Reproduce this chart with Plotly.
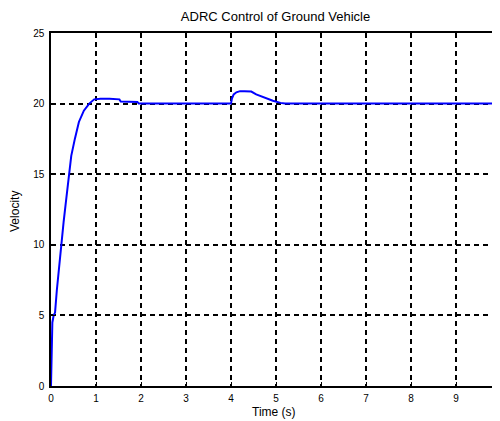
import plotly.graph_objects as go

# Data
time_s = [0, 0.015, 0.03, 0.06, 0.09, 0.13, 0.18, 0.23, 0.28, 0.33, 0.39, 0.45,
          0.53, 0.62, 0.73, 0.85, 0.96, 1.1, 1.3, 1.52, 1.55, 1.92, 1.95, 2.5,
          3.0, 3.5, 4.0, 4.02, 4.06, 4.12, 4.2, 4.3, 4.45, 4.56, 4.75, 4.93,
          5.1, 5.2, 6.0, 7.0, 8.0, 9.0, 10.0]
velocity = [0, 2.2, 4.5, 5.0, 5.2, 6.8, 8.5, 10.2, 11.6, 13.0, 14.7, 16.3,
            17.5, 18.7, 19.5, 20.0, 20.3, 20.35, 20.35, 20.3, 20.15, 20.12, 20.0, 20.0,
            20.0, 20.0, 20.0, 20.35, 20.65, 20.8, 20.88, 20.88, 20.85, 20.65, 20.4, 20.2,
            20.05, 20.0, 20.0, 20.0, 20.0, 20.0, 20.0]

x_ticks = [0, 1, 2, 3, 4, 5, 6, 7, 8, 9, 10]
y_ticks = [0, 5, 10, 15, 20, 25]

FONT = "Arial, Liberation Sans, sans-serif"

fig = go.Figure()
fig.add_trace(go.Scatter(x=time_s, y=velocity, mode="lines",
                         line=dict(color="#0000ff", width=2), showlegend=False))

grid = dict(showgrid=True, gridcolor="black", gridwidth=1.5, griddash="5px,4px",
            zeroline=False, showline=True, linecolor="black", linewidth=1.5,
            ticks="inside", ticklen=4, tickcolor="black", automargin=False,
            tickfont=dict(family=FONT, size=10, color="black"))

fig.update_xaxes(range=[0, 10], tickvals=x_ticks, mirror=True, ticklabelstandoff=2, **grid)
fig.update_yaxes(range=[0, 25], tickvals=y_ticks, mirror=False, ticklabelstandoff=3, **grid)

fig.add_annotation(text="Time (s)", xref="paper", yref="paper", x=0.496, y=-0.075,
                   xanchor="center", yanchor="middle", showarrow=False,
                   font=dict(family=FONT, size=12, color="black"))
fig.add_annotation(text="Velocity", xref="paper", yref="paper", x=-0.080, y=0.493,
                   xanchor="center", yanchor="middle", textangle=-90, showarrow=False,
                   font=dict(family=FONT, size=12, color="black"))

fig.update_layout(
    width=493, height=413,
    margin=dict(l=43, r=0, t=25, b=35),
    paper_bgcolor="white", plot_bgcolor="white",
    title=dict(text="ADRC Control of Ground Vehicle", x=0.5426, xanchor="center",
               y=0.9794, yanchor="middle", automargin=False,
               font=dict(family=FONT, size=13, color="black")),
)

fig.write_html("out.html")
